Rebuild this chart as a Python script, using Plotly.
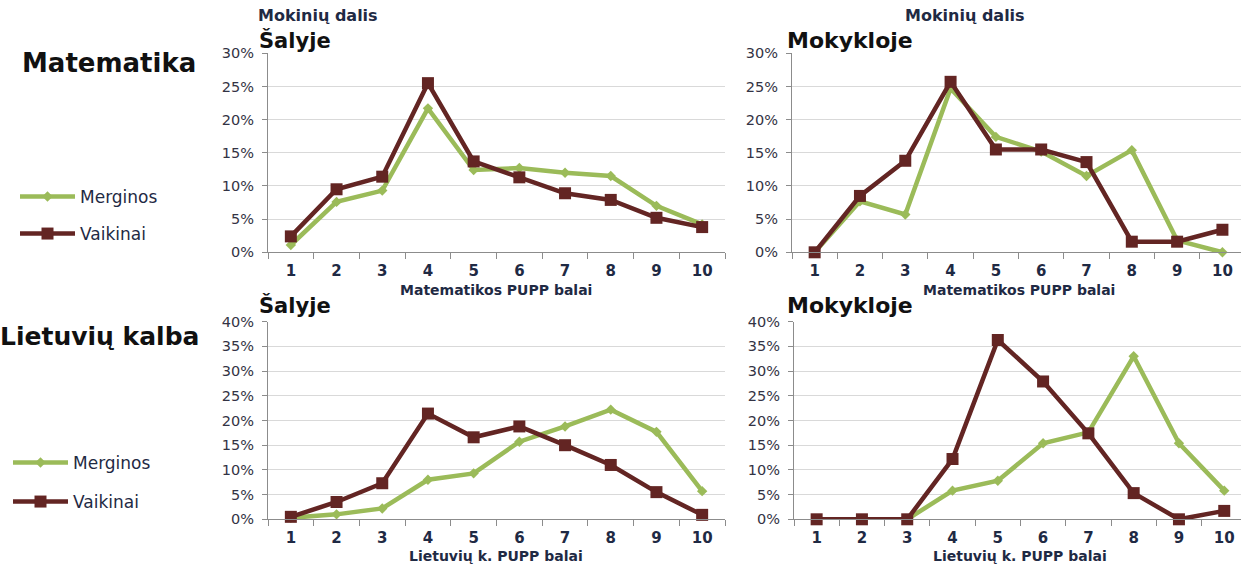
import plotly.graph_objects as go

W, H = 1241, 569

categories = [1, 2, 3, 4, 5, 6, 7, 8, 9, 10]
series_names = ["Merginos", "Vaikinai"]

math_country_girls = [1.1, 7.6, 9.3, 21.7, 12.4, 12.7, 12.0, 11.5, 7.0, 4.2]
math_country_boys = [2.4, 9.5, 11.4, 25.5, 13.7, 11.3, 8.9, 7.9, 5.2, 3.8]
math_school_girls = [0, 7.7, 5.7, 24.7, 17.4, 15.2, 11.5, 15.4, 1.8, 0]
math_school_boys = [0, 8.5, 13.8, 25.7, 15.5, 15.5, 13.6, 1.6, 1.6, 3.4]
lit_country_girls = [0.3, 1.0, 2.2, 8.0, 9.3, 15.7, 18.8, 22.2, 17.7, 5.7]
lit_country_boys = [0.5, 3.5, 7.3, 21.4, 16.6, 18.8, 15.0, 11.0, 5.5, 0.9]
lit_school_girls = [0, 0, 0, 5.8, 7.8, 15.4, 17.6, 33.0, 15.4, 5.8]
lit_school_boys = [0, 0, 0, 12.2, 36.3, 27.9, 17.4, 5.3, 0, 1.7]

GREEN = "#9BBB59"
BROWN = "#632523"
TXT = "#1F2A44"
FONT = "DejaVu Sans"

cats = [str(c) for c in categories]

def px(x):
    return x / W

def py(y):
    return 1 - y / H

fig = go.Figure()

panels = [
    ("x", "y", math_country_girls, math_country_boys, "legend", "legend2"),
    ("x2", "y2", math_school_girls, math_school_boys, None, None),
    ("x3", "y3", lit_country_girls, lit_country_boys, "legend3", "legend4"),
    ("x4", "y4", lit_school_girls, lit_school_boys, None, None),
]

for xa, ya, girls, boys, lg, lb in panels:
    fig.add_trace(go.Scatter(
        x=cats, y=girls, xaxis=xa, yaxis=ya, mode="lines+markers",
        name=series_names[0], line=dict(color=GREEN, width=4.5),
        marker=dict(symbol="diamond", size=8, color=GREEN),
        cliponaxis=False, showlegend=lg is not None,
        legend=lg if lg else "legend"))
    fig.add_trace(go.Scatter(
        x=cats, y=boys, xaxis=xa, yaxis=ya, mode="lines+markers",
        name=series_names[1], line=dict(color=BROWN, width=4.5),
        marker=dict(symbol="square", size=12, color=BROWN),
        cliponaxis=False, showlegend=lb is not None,
        legend=lb if lb else "legend"))

def xaxis(domain, rng, anchor):
    return dict(domain=domain, type="category", range=rng, tickson="boundaries",
                anchor=anchor, automargin=False,
                ticks="outside", ticklen=6, tickcolor="#8C8C8C",
                ticklabelstandoff=5,
                showline=True, linecolor="#8C8C8C", linewidth=1,
                showgrid=False, zeroline=False,
                tickfont=dict(family=FONT, size=15, color=TXT, weight="bold"))

def yaxis(domain, top, anchor):
    return dict(domain=domain, range=[0, top], dtick=5, ticksuffix="%",
                anchor=anchor, automargin=False,
                ticks="outside", ticklen=5, tickcolor="#8C8C8C",
                ticklabelstandoff=5,
                showline=True, linecolor="#8C8C8C", linewidth=1,
                showgrid=True, gridcolor="#D9D9D9", gridwidth=1, zeroline=False,
                tickfont=dict(family=FONT, size=14.5, color="#333344"))

top_dom = [py(252.3), py(53.3)]
bot_dom = [py(519.3), py(321.7)]

fig.update_layout(
    width=W, height=H, margin=dict(l=0, r=0, t=0, b=0, pad=0, autoexpand=False),
    paper_bgcolor="white", plot_bgcolor="white",
    xaxis=xaxis([px(268), px(725)], [-0.5, 9.5], "y"),
    yaxis=yaxis(top_dom, 30, "x"),
    xaxis2=xaxis([px(792), 1.0], [-0.5, 9.41], "y2"),
    yaxis2=yaxis(top_dom, 30, "x2"),
    xaxis3=xaxis([px(268), px(725)], [-0.5, 9.5], "y3"),
    yaxis3=yaxis(bot_dom, 40, "x3"),
    xaxis4=xaxis([px(794), 1.0], [-0.5, 9.37], "y4"),
    yaxis4=yaxis(bot_dom, 40, "x4"),
)

leg_font = dict(family=FONT, size=17, color=TXT)
for name, x, y in [("legend", 15, 197), ("legend2", 15, 234),
                   ("legend3", 8, 463), ("legend4", 8, 502)]:
    fig.update_layout({name: dict(x=px(x), y=py(y), xanchor="left", yanchor="middle",
                                  bgcolor="rgba(0,0,0,0)", font=leg_font,
                                  itemwidth=55)})

ann = []
def text(t, x, y, size, color, xanchor="left", bold=True):
    ann.append(dict(text=f"<b>{t}</b>" if bold else t, x=px(x), y=py(y),
                    xref="paper", yref="paper", xanchor=xanchor, yanchor="middle",
                    showarrow=False, font=dict(family=FONT, size=size, color=color)))

text("Mokinių dalis", 256, 15, 16, TXT)
text("Šalyje", 257, 40, 21, "#111111")
text("Mokinių dalis", 965, 15, 16, TXT, xanchor="center")
text("Mokykloje", 785, 40, 22, "#111111")
text("Šalyje", 257, 305, 21, "#111111")
text("Mokykloje", 785, 305, 22, "#111111")
text("Matematika", 20, 63, 26, "#111111")
text("Lietuvių kalba", 201, 337, 25, "#111111", xanchor="right")
text("Matematikos PUPP balai", 496, 290, 14, TXT, xanchor="center")
text("Matematikos PUPP balai", 1019, 290, 14, TXT, xanchor="center")
text("Lietuvių k. PUPP balai", 496, 556, 14, TXT, xanchor="center")
text("Lietuvių k. PUPP balai", 1020, 556, 14, TXT, xanchor="center")
fig.update_layout(annotations=ann)

fig.write_html("out.html", config={"displayModeBar": False},
               post_script="document.body.style.margin='0';document.body.style.overflow='hidden';")
